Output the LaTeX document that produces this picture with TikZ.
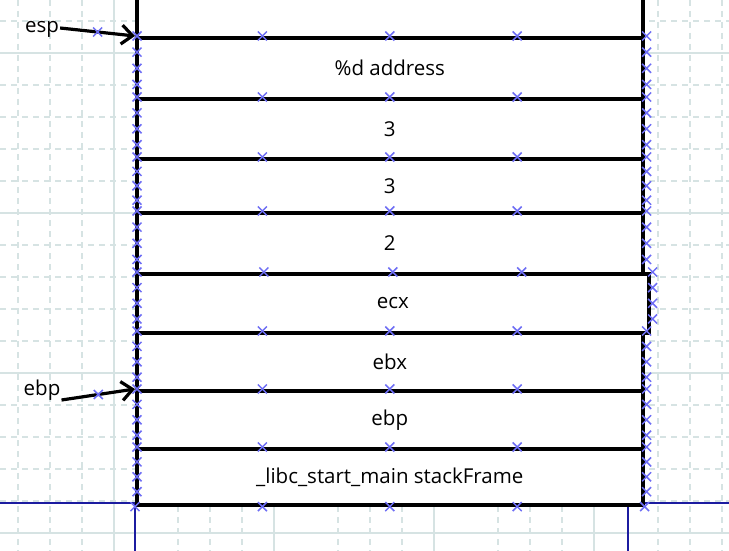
\documentclass[tikz,border=0pt]{standalone}
\usepackage{fontspec}
\setmainfont{Open Sans}
\usetikzlibrary{arrows.meta,calc}
\definecolor{gridc}{HTML}{D6E3E3}
\definecolor{markc}{HTML}{6E6EF5}
\definecolor{pagec}{HTML}{1C1CA0}
\tikzset{
  minorgrid/.style={gridc, line width=1.3pt, dash pattern=on 6pt off 5pt},
  majorgrid/.style={gridc, line width=1.3pt},
  rowbox/.style={draw=black, fill=white, line width=3.6pt, rectangle, anchor=north west,
     inner sep=0pt, font=\fontsize{20.5}{22}\selectfont, text=black},
  lbl/.style={font=\fontsize{20.5}{22}\selectfont, text=black, inner sep=1pt},
  ptr/.style={draw=black, line width=3.2pt, -{Straight Barb[length=11pt,width=19pt,line width=3.2pt]}},
  xm/.style={draw=markc, line width=1.5pt},
  pageline/.style={draw=pagec, line width=1.3pt}
}
\newcommand\xmk[1]{\draw[xm] ($#1+(-4.5,-4.5)$) -- ++(9,9) ($#1+(-4.5,4.5)$) -- ++(9,-9);}
\begin{document}
\begin{tikzpicture}[x=1pt,y=-1pt]
\useasboundingbox (0,0) rectangle (729,551);
\fill[white] (0,0) rectangle (729,551);
% grid
\foreach \gx in {18,50,82,178,210,242,338,370,402,498,530,562,658,690,722}
  \draw[minorgrid] (\gx,0) -- (\gx,551);
\foreach \gy in {21,85,117,149,181,245,277,309,341,405,437,469,501,565}
  \draw[minorgrid] (0,\gy) -- (729,\gy);
\foreach \gx in {114,274,434,594}
  \draw[majorgrid] (\gx,0) -- (\gx,551);
\foreach \gy in {53,213,373,533}
  \draw[majorgrid] (0,\gy) -- (729,\gy);
% page border
\draw[pageline] (0,503) -- (729,503);
\draw[pageline] (135,503) -- (135,551);
\draw[pageline] (628,503) -- (628,551);
% top partial box
\node[rowbox, minimum width=506pt, minimum height=50pt] (r0) at (135,-14) {};
% rows
\node[rowbox, minimum width=506pt, minimum height=61pt] (r1) at (135,36) {\%d address};
\node[rowbox, minimum width=506pt, minimum height=60pt] (r2) at (135,97) {3};
\node[rowbox, minimum width=506pt, minimum height=54pt] (r3) at (135,157) {3};
\node[rowbox, minimum width=506pt, minimum height=61pt] (r4) at (135,211) {2};
\node[rowbox, minimum width=512pt, minimum height=59pt] (r5) at (135,272) {ecx};
\node[rowbox, minimum width=506pt, minimum height=58pt] (r6) at (135,331) {ebx};
\node[rowbox, minimum width=506pt, minimum height=58pt] (r7) at (135,389) {ebp};
\node[rowbox, minimum width=506pt, minimum height=56pt] (r8) at (135,447) {\_libc\_start\_main stackFrame};
% pointer labels
\node[lbl] (esp) at (42,29) {esp};
\node[lbl] (ebpl) at (42,390) {ebp};
\draw[ptr] ($(esp.east)+(0,-1)$) -- (r1.north west);
\draw[ptr] ($(ebpl.east)+(0,10)$) -- (r7.north west);
% connection marks
\foreach \r in {r1,r2,r3,r4,r5,r6,r7,r8}{
  \foreach \f in {0,0.25,0.5,0.75}{
    \xmk{($(\r.north west)!\f!(\r.south west)+(2,0)$)}
    \xmk{($(\r.north east)!\f!(\r.south east)+(2,0)$)}
  }
  \foreach \f in {0.25,0.5,0.75}{
    \xmk{($(\r.north west)!\f!(\r.north east)$)}
  }
}
\foreach \f in {0.25,0.5,0.75}{
  \xmk{($(r8.south west)!\f!(r8.south east)$)}
}
\xmk{(r8.south west)}
\xmk{(r8.south east)}
\xmk{($($(esp.east)+(0,-1)$)!0.5!(r1.north west)$)}
\xmk{($($(ebpl.east)+(0,10)$)!0.5!(r7.north west)$)}
\end{tikzpicture}
\end{document}
